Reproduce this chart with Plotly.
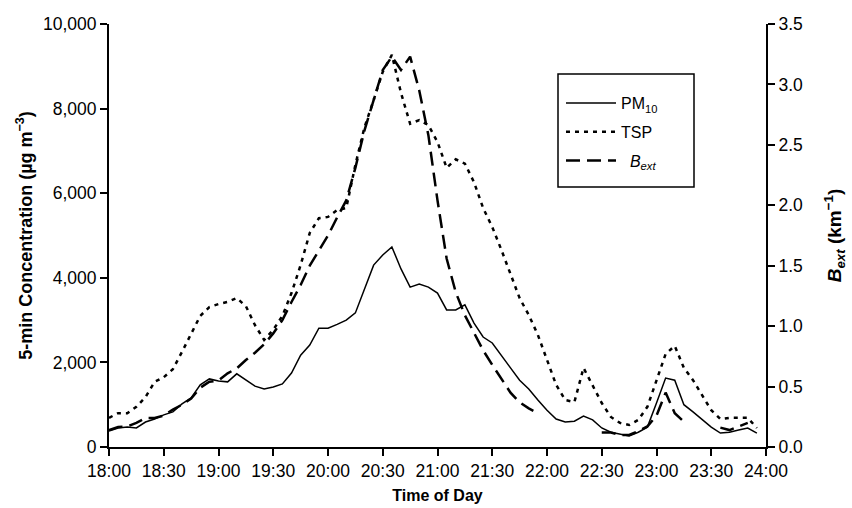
import plotly.graph_objects as go

# Sampling grid: minutes after 18:00, one reading every 5 minutes
minutes = list(range(0, 365, 5))

tick_minutes = list(range(0, 390, 30))
tick_labels = ["18:00", "18:30", "19:00", "19:30", "20:00", "20:30", "21:00",
               "21:30", "22:00", "22:30", "23:00", "23:30", "24:00"]

# 5-min PM10 concentration (µg m-3)
pm10 = [380, 450, 470, 450, 590, 660, 760, 830, 1020, 1160, 1470, 1610,
        1560, 1540, 1730, 1580, 1440, 1370, 1420, 1490, 1750, 2170, 2410, 2810,
        2810, 2900, 3000, 3170, 3740, 4300, 4540, 4730, 4210, 3780, 3850, 3780,
        3640, 3240, 3240, 3360, 2930, 2600, 2460, 2150, 1870, 1580, 1370, 1110,
        870, 660, 590, 610, 730, 640, 450, 350, 310, 260, 350, 470,
        1040, 1630, 1580, 1000, 830, 640, 470, 330, 350, 400, 450, 330, None]

# 5-min TSP concentration (µg m-3)
tsp = [690, 800, 800, 950, 1180, 1540, 1650, 1840, 2250, 2670, 3100, 3310,
       3380, 3430, 3520, 3330, 2880, 2530, 2770, 3100, 3640, 4300, 5060, 5410,
       5440, 5600, 5650, 6670, 7560, 8200, 8870, 9270, 8370, 7640, 7730, 7610,
       7210, 6600, 6800, 6700, 6260, 5650, 5200, 4660, 4110, 3520, 3120, 2650,
       2060, 1470, 1110, 1060, 1870, 1470, 1040, 710, 570, 520, 640, 950,
       1580, 2200, 2390, 1870, 1580, 1230, 870, 660, 690, 690, 690, 450, None]

# Light extinction coefficient B_ext (km-1); None = no reading
bext = [0.14, 0.165, 0.17, 0.20, 0.24, 0.24, 0.26, 0.31, 0.35, 0.40, 0.49, 0.54,
        0.55, 0.61, 0.65, 0.72, 0.78, 0.85, 0.94, 1.05, 1.20, 1.34, 1.50, 1.63,
        1.75, 1.90, 2.04, 2.31, 2.62, 2.87, 3.12, 3.23, 3.12, 3.23, 2.95, 2.58,
        2.04, 1.56, 1.28, 1.09, 0.94, 0.80, 0.68, 0.57, 0.45, 0.37, 0.32, 0.28,
        None, None, None, None, None, None, 0.12, 0.12, 0.10, 0.10, 0.13, 0.17,
        0.26, 0.45, 0.28, 0.21, None, None, None, 0.16, 0.14, 0.17, 0.20, None, None]

FONT = "Liberation Sans, Arial, Helvetica, sans-serif"
TICK_SIZE = 17.5

fig = go.Figure()
fig.add_trace(go.Scatter(
    x=minutes, y=pm10, mode="lines", name="PM<sub>10</sub>", legendgroup="a",
    line=dict(color="black", width=1.5), connectgaps=False))
fig.add_trace(go.Scatter(
    x=minutes, y=tsp, mode="lines", name="TSP", legendgroup="b",
    line=dict(color="black", width=2.5, dash="4px,5px"), connectgaps=False))
fig.add_trace(go.Scatter(
    x=minutes, y=bext, mode="lines", name="  <i>B<sub>ext</sub></i>", legendgroup="c",
    yaxis="y2", line=dict(color="black", width=2.5, dash="14px,7px"),
    connectgaps=False))

L, R, T, B = 109, 86, 24, 61
W, H = 852, 508
pw, ph = W - L - R, H - T - B


def px_x(p):
    return (p - L) / pw


def px_y(p):
    return (H - B - p) / ph


axis_common = dict(showgrid=False, zeroline=False, color="black",
                   tickfont=dict(family=FONT, size=TICK_SIZE, color="black"))

fig.update_layout(
    width=W, height=H,
    margin=dict(l=L, r=R, t=T, b=B, autoexpand=False),
    paper_bgcolor="white", plot_bgcolor="white",
    font=dict(family=FONT, color="black"),
    xaxis=dict(
        **axis_common, range=[0, 360], tickvals=tick_minutes, ticktext=tick_labels,
        showline=True, linewidth=2, linecolor="black",
        ticks="outside", ticklen=7, tickwidth=1.5, tickcolor="black",
        title=dict(text="<b>Time of Day</b>", standoff=10,
                   font=dict(family=FONT, size=16, color="black"))),
    yaxis=dict(
        **axis_common, range=[0, 10000], dtick=2000, tickformat=",d",
        showline=True, linewidth=2, linecolor="black",
        ticks="outside", ticklen=7, tickwidth=1.5, tickcolor="black",
        title=dict(text="<b>5-min Concentration (µg m<sup>−3</sup>)</b>", standoff=6,
                   font=dict(family=FONT, size=18, color="black"))),
    yaxis2=dict(
        **axis_common, range=[0, 3.5], dtick=0.5, tickformat=".1f",
        overlaying="y", side="right", anchor="x",
        showline=True, linewidth=2, linecolor="black",
        ticks="outside", ticklen=7, tickwidth=1.5, tickcolor="black",
        title=dict(text="<b><i>B<sub>ext</sub></i> (km<sup>−1</sup>)</b>", standoff=26,
                   font=dict(family=FONT, size=19, color="black"))),
    yaxis3=dict(
        range=[0, 3.5], dtick=0.5, overlaying="y", side="right", anchor="x",
        showgrid=False, zeroline=False, showline=False, showticklabels=False,
        ticks="inside", ticklen=7, tickwidth=1.5, tickcolor="black"),
    showlegend=True,
    legend=dict(
        x=px_x(561), y=px_y(86), xanchor="left", yanchor="top",
        bgcolor="rgba(0,0,0,0)", borderwidth=0, itemwidth=50,
        tracegroupgap=5, font=dict(family=FONT, size=16, color="black")),
    shapes=[dict(type="rect", xref="paper", yref="paper",
                 x0=px_x(558), x1=px_x(694), y0=px_y(187), y1=px_y(74),
                 line=dict(color="black", width=1.5), fillcolor="rgba(0,0,0,0)",
                 layer="below")],
)

fig.write_html("out.html")
